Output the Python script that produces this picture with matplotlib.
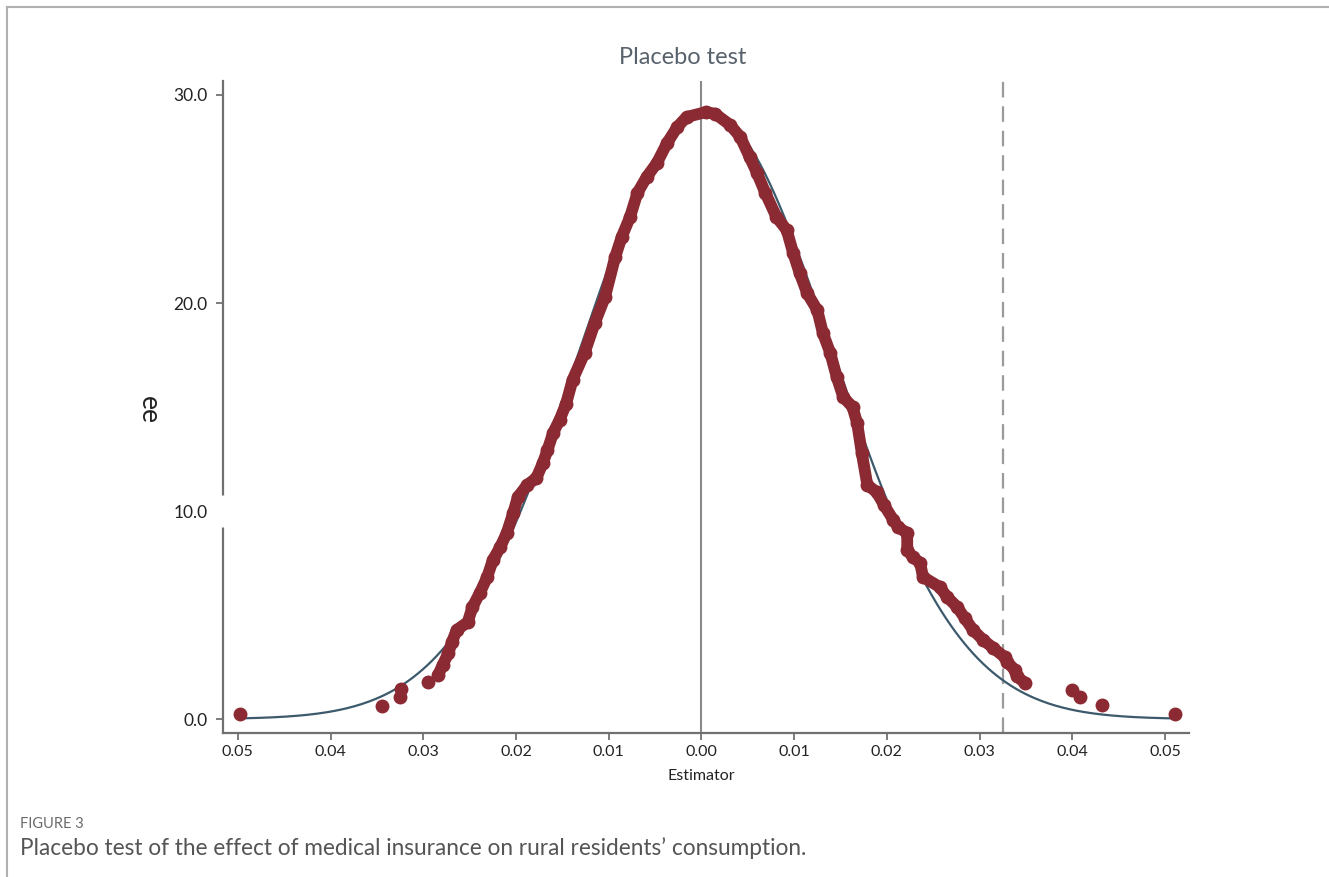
import numpy as np
import matplotlib.pyplot as plt
from matplotlib.ticker import FuncFormatter
from matplotlib.lines import Line2D

plt.rcParams['font.family'] = ['Lato', 'DejaVu Sans']

# placebo estimates (x) and their density (y)
est_x = [-0.0284, -0.0279, -0.0273, -0.0269, -0.0264, -0.0252, -0.0247, -0.0239,
         -0.0231, -0.0225, -0.0217, -0.0210, -0.0203, -0.0198, -0.0188, -0.0178,
         -0.0171, -0.0166, -0.0160, -0.0153, -0.0146, -0.0139, -0.0126, -0.0115,
         -0.0104, -0.0093, -0.0086, -0.0077, -0.0069, -0.0059, -0.0048, -0.0037,
         -0.0026, -0.0016, 0.0005, 0.0015, 0.0031, 0.0042, 0.0052, 0.0060,
         0.0069, 0.0081, 0.0092, 0.0099, 0.0106, 0.0114, 0.0125, 0.0131,
         0.0139, 0.0146, 0.0153, 0.0163, 0.0168, 0.0173, 0.0179, 0.0189,
         0.0197, 0.0207, 0.0212, 0.0222, 0.0222, 0.0228, 0.0236, 0.0239,
         0.0257, 0.0265, 0.0276, 0.0284, 0.0293, 0.0304, 0.0315, 0.0327,
         0.0330, 0.0338, 0.0340, 0.0349]
est_y = [2.12, 2.60, 3.17, 3.70, 4.28, 4.66, 5.38, 6.06,
         6.83, 7.64, 8.27, 8.94, 9.90, 10.67, 11.25, 11.59,
         12.31, 12.93, 13.75, 14.38, 15.14, 16.30, 17.60, 19.04,
         20.29, 22.21, 23.17, 24.13, 25.29, 26.06, 26.73, 27.69,
         28.46, 28.94, 29.18, 29.09, 28.56, 27.98, 27.02, 26.25,
         25.29, 24.13, 23.51, 22.40, 21.44, 20.48, 19.66, 18.56,
         17.60, 16.44, 15.48, 15.00, 14.23, 12.79, 11.25, 10.91,
         10.29, 9.57, 9.23, 8.94, 8.13, 7.79, 7.50, 6.83,
         6.35, 5.87, 5.38, 4.86, 4.28, 3.80, 3.41, 2.98,
         2.74, 2.36, 2.07, 1.73]

# isolated estimates in the tails
tail_x = [-0.0498, -0.0344, -0.0325, -0.0324, -0.0295, 0.0400, 0.0408, 0.0432, 0.0511]
tail_y = [0.24, 0.63, 1.06, 1.44, 1.78, 1.39, 1.06, 0.67, 0.24]

# fitted normal density
mu = 0.0005
sigma = 0.01365
true_coef = 0.0325

fig = plt.figure(figsize=(13.29, 8.77), dpi=100)
ax = fig.add_axes([0.1678, 0.1642, 0.7269, 0.7434])

xs = np.linspace(-0.0498, 0.0511, 400)
ax.plot(xs, np.exp(-0.5 * ((xs - mu) / sigma) ** 2) / (sigma * np.sqrt(2 * np.pi)),
        color='#3d5a6c', lw=1.6, zorder=2)

red = '#8c2a33'
ax.plot(est_x, est_y, '-', color=red, lw=8.5, solid_capstyle='round',
        solid_joinstyle='round', zorder=3)
ax.plot(est_x, est_y, 'o', color=red, ms=9, zorder=3)
ax.plot(tail_x, tail_y, 'o', color=red, ms=9, zorder=3)

ax.axvline(0.0, color='#8a8a8a', lw=1.5, zorder=1)
ax.axvline(true_coef, color='#9a9a9a', lw=1.6, ls=(0, (7, 4)), zorder=1)

ax.set_xlim(-0.0516, 0.0526)
ax.set_ylim(-0.67, 30.67)
ax.set_xticks([-0.05, -0.04, -0.03, -0.02, -0.01, 0.0, 0.01, 0.02, 0.03, 0.04, 0.05])
ax.set_yticks([0, 10, 20, 30])
ax.xaxis.set_major_formatter(FuncFormatter(lambda v, p: f"{abs(v):.2f}"))
ax.yaxis.set_major_formatter(FuncFormatter(lambda v, p: f"{v:.1f}"))
ax.tick_params(colors='#666666', labelcolor='#222222', length=5, width=1.2)
ax.tick_params(axis='x', labelsize=11.5)
ax.tick_params(axis='y', labelsize=12.5, pad=6)
for s in ['top', 'right']:
    ax.spines[s].set_visible(False)
for s in ['left', 'bottom']:
    ax.spines[s].set_color('#707070')
    ax.spines[s].set_linewidth(1.6)

# gap in the y axis line next to the 10.0 label
ax.plot([0, 0], [0.316, 0.365], transform=ax.transAxes, color='white', lw=11,
        solid_capstyle='butt', clip_on=False, zorder=5)

fig.text(0.514, 0.935, "Placebo test", ha='center', va='center', fontsize=17,
         color='#58626c')
fig.text(0.528, 0.115, "Estimator", ha='center', va='center', fontsize=11.5,
         color='#222222')
fig.text(0.112, 0.532, "ee", ha='center', va='center', fontsize=19, rotation=-90,
         color='#222222')

fig.text(0.015, 0.061, "FIGURE 3", ha='left', va='center', fontsize=10.5,
         color='#6a6a6a')
fig.text(0.015, 0.033, "Placebo test of the effect of medical insurance on rural residents\u2019 consumption.",
         ha='left', va='center', fontsize=16.3, color='#555555')

# page frame lines
fig.add_artist(Line2D([0.0053, 1.0], [0.992, 0.992], color='#b0b0b0', lw=1.5))
fig.add_artist(Line2D([0.0053, 0.0053], [0.0, 0.992], color='#b0b0b0', lw=1.5))

fig.savefig("out.png", dpi=100)
